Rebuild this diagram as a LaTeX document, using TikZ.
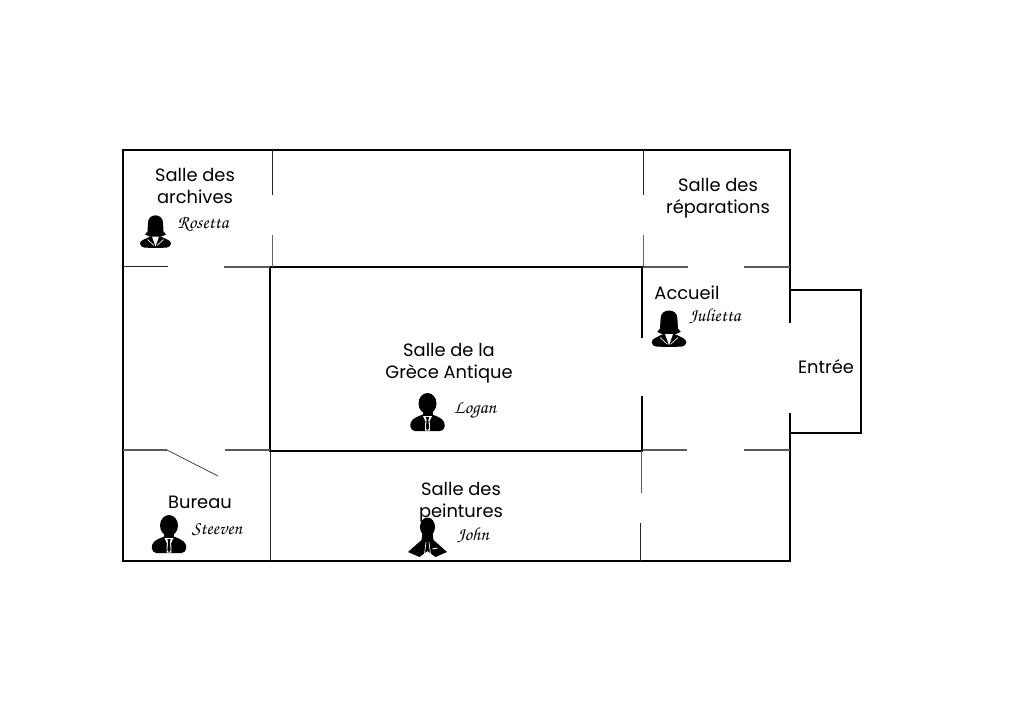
\documentclass[tikz,border=0pt]{standalone}
\usepackage{fontspec}
\setmainfont{Poppins}
\tikzset{
	wall/.style = {black, line width = 1.5pt},
	cloison/.style = {black!85, line width = 0.65pt},
	cloisongrise/.style = {black!65, line width = 0.8pt},
	salle/.style = {font = \fontsize{13.4}{16.5}\selectfont, align = center, inner sep = 0pt},
	prenom/.style = {font = \usefont{OT1}{pzc}{mb}{it}\fontsize{14}{16}\selectfont, inner sep = 0pt},
	homme/.pic = {
		\fill [black] (0, 10.5) ellipse [x radius = 9, y radius = 10.5];
		\fill [black, rounded corners = 3] (-16.5, 38) .. controls (-18, 26) and (-12, 25) .. (-5, 21) -- (5, 21) .. controls (12, 25) and (18, 26) .. (16.5, 38) -- cycle;
		\fill [black] (-5, 17) rectangle (5, 24);
		\fill [white] (-4.5, 23) -- (4.5, 23) -- (2.2, 28) -- (2.4, 37.5) -- (-2.4, 37.5) -- (-2.2, 28) -- cycle;
		\fill [black] (-1.6, 24) -- (1.6, 24) -- (0.9, 27) -- (1.6, 35) -- (0, 37.5) -- (-1.6, 35) -- (-0.9, 27) -- cycle;
	},
	femme/.pic = {
		\fill [black] (-7.5, 8) .. controls (-7.5, -1.5) and (7.5, -1.5) .. (7.5, 8) -- (8, 17) -- (10.5, 20) -- (6, 22) -- (-6, 22) -- (-10.5, 20) -- (-8, 17) -- cycle;
		\fill [black, rounded corners = 3] (-15, 33) .. controls (-16, 26) and (-9, 24) .. (-4, 21) -- (4, 21) .. controls (9, 24) and (16, 26) .. (15, 33) -- (0, 33.5) -- cycle;
		\fill [white] (-3.5, 22) -- (3.5, 22) -- (0, 32) -- cycle;
		\draw [white, line width = 0.5pt] (-8, 25) -- (-1.5, 31);
		\draw [white, line width = 0.5pt] (8, 25) -- (1.5, 31);
	},
	costume/.pic = {
		\fill [black] (0, 9) ellipse [x radius = 7.5, y radius = 9.5];
		\fill [black] (-19.5, 34) -- (-6, 22) -- (-5, 15) -- (5, 15) -- (6, 22) -- (19.5, 34) -- (8, 39) -- (0, 33) -- (-8, 39) -- cycle;
		\draw [white, line width = 0.5pt] (-1.5, 24) -- (-3, 36);
		\draw [white, line width = 0.5pt] (1.5, 24) -- (3, 36);
		\draw [white, line width = 0.7pt] (5, 31) -- (10, 30);
	}
}
\begin{document}
\begin{tikzpicture}[x = 0.75pt, y = -0.75pt]
	\useasboundingbox (0, 0) rectangle (1024, 724);
	% facade
	\draw [wall] (790, 323) -- (790, 290) -- (861, 290) -- (861, 433) -- (790, 433) -- (790, 413);
	\draw [wall] (790, 413) -- (790, 561) -- (123, 561) -- (123, 150) -- (790, 150) -- (790, 323);
	% grande salle
	\draw [wall] (642, 338) -- (642, 267) -- (270, 267) -- (270, 451) -- (642, 451) -- (642, 396);
	% cloisons
	\draw [cloison] (272, 150) -- (272, 195);
	\draw [cloison, black!60] (272, 235) -- (272, 267);
	\draw [cloison] (643, 150) -- (643, 195);
	\draw [cloison, black!60] (643, 235) -- (643, 267);
	\draw [cloison] (123, 266.5) -- (168, 266.5);
	\draw [cloisongrise] (224, 267) -- (270, 267);
	\draw [cloisongrise] (643, 267) -- (688, 267);
	\draw [cloisongrise] (744, 267) -- (790, 267);
	\draw [cloisongrise] (123, 450) -- (167, 450);
	\draw [cloison, line width = 0.5pt] (167, 450) -- (218, 476);
	\draw [cloisongrise] (225, 450) -- (270, 450);
	\draw [cloisongrise] (643, 450) -- (687, 450);
	\draw [cloisongrise] (744, 450) -- (790, 450);
	\draw [cloison] (270.5, 451) -- (270.5, 561);
	\draw [cloisongrise] (641.5, 451) -- (641.5, 493);
	\draw [cloison] (640.5, 523) -- (640.5, 561);
	% salles
	\node (archives) at (195, 186) [salle] {Salle des\\archives};
	\node (reparations) at (718, 198) [salle] {Salle des\\réparations};
	\node (accueil) at (687, 293) [salle] {Accueil};
	\node (grece) at (449, 363) [salle] {Salle de la\\Grèce Antique};
	\node (bureau) at (200, 502) [salle] {Bureau};
	\node (peintures) at (461, 502) [salle] {Salle des\\peintures};
	\node (entree) at (826, 367) [salle] {Entrée};
	% personnes
	\pic at (155.5, 214.5) {femme};
	\pic [scale = 1.12] at (669, 309.5) {femme};
	\pic at (427.5, 393) {homme};
	\pic at (169, 515) {homme};
	\pic at (427.5, 518) {costume};
	\node (rosetta) at (203, 224) [prenom] {Rosetta};
	\node (julietta) at (715, 316) [prenom] {Julietta};
	\node (logan) at (475, 411) [prenom] {Logan};
	\node (steeven) at (217, 529) [prenom] {Steeven};
	\node (john) at (473, 535) [prenom] {John};
\end{tikzpicture}
\end{document}
